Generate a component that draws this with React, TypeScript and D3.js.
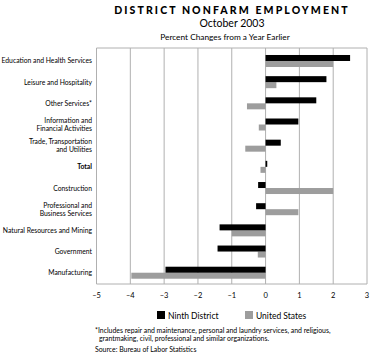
import React from "react";
import * as d3 from "d3";

const categories = [
  ["Education and Health Services"],
  ["Leisure and Hospitality"],
  ["Other Services*"],
  ["Information and", "Financial Activities"],
  ["Trade, Transportation", "and Utilities"],
  ["Total"],
  ["Construction"],
  ["Professional and", "Business Services"],
  ["Natural Resources and Mining"],
  ["Government"],
  ["Manufacturing"],
];
const ninthDistrict = [2.5, 1.8, 1.5, 0.97, 0.45, 0.05, -0.22, -0.28, -1.36, -1.42, -2.96];
const unitedStates = [2.0, 0.32, -0.55, -0.2, -0.6, -0.15, 2.0, 0.97, -1.0, -0.23, -3.97];
const xTicks = [-5, -4, -3, -2, -1, 0, 1, 2, 3];
const seriesNames = ["Ninth District", "United States"];
const seriesColors = ["#000000", "#9d9d9d"];

const FONT = "Lato, 'DejaVu Sans', sans-serif";

export default function App() {
  const W = 370, H = 356;
  const x = d3.scaleLinear().domain([-5, 3]).range([96.5, 367]);
  const y = d3.scaleBand<number>().domain(d3.range(categories.length)).range([50.4, 283.3]);
  const top = 48, bottom = 284;
  const barH = 6;
  const fmt = (t: number) => (t < 0 ? "\u2013" + Math.abs(t) : String(t));

  return (
    <svg width={W} height={H} style={{ position: "absolute", left: 0, top: 0, background: "#fff" }}>
      <text x={232} y={14} textAnchor="middle" fontFamily={FONT} fontWeight="900" fontSize={10.5} letterSpacing={2.1}>
        DISTRICT NONFARM EMPLOYMENT
      </text>
      <text x={232} y={27} textAnchor="middle" fontFamily={FONT} fontSize={10.5}>October 2003</text>
      <text x={225} y={40} textAnchor="middle" fontFamily={FONT} fontSize={8.3}>Percent Changes from a Year Earlier</text>

      {xTicks.map((t) => (
        <line key={"g" + t} x1={x(t)} x2={x(t)} y1={top} y2={bottom} stroke="#b0b0b0" strokeWidth={1} />
      ))}
      <line x1={x(-5)} x2={x(3)} y1={top} y2={top} stroke="#b0b0b0" />
      <line x1={x(-5)} x2={x(3)} y1={bottom} y2={bottom} stroke="#b0b0b0" />

      {categories.map((c, i) => {
        const cy = (y(i) as number) + y.bandwidth() / 2;
        const v1 = ninthDistrict[i], v2 = unitedStates[i];
        return (
          <g key={i}>
            <rect x={x(Math.min(0, v2))} y={cy} width={Math.abs(x(v2) - x(0))} height={barH} fill={seriesColors[1]} />
            <rect x={x(Math.min(0, v1))} y={cy - barH} width={Math.abs(x(v1) - x(0))} height={barH} fill={seriesColors[0]} />
            {c.map((line, j) => (
              <text
                key={j}
                x={92}
                y={cy + 2.5 + (j - (c.length - 1) / 2) * 8}
                textAnchor="end"
                fontFamily={FONT}
                fontSize={6.8}
                fontWeight={c[0] === "Total" ? "bold" : "normal"}
              >
                {line}
              </text>
            ))}
          </g>
        );
      })}

      {xTicks.map((t) => (
        <text key={"t" + t} x={x(t)} y={298} textAnchor="middle" fontFamily={FONT} fontSize={7.5}>
          {fmt(t)}
        </text>
      ))}

      <rect x={157} y={311} width={8} height={8} fill={seriesColors[0]} />
      <text x={168} y={318.5} fontFamily={FONT} fontSize={8.5}>{seriesNames[0]}</text>
      <rect x={245} y={311} width={8} height={8} fill={seriesColors[1]} />
      <text x={256} y={318.5} fontFamily={FONT} fontSize={8.5}>{seriesNames[1]}</text>

      <text x={95} y={333} fontFamily={FONT} fontSize={6.9}>
        *Includes repair and maintenance, personal and laundry services, and religious,
      </text>
      <text x={99} y={341} fontFamily={FONT} fontSize={6.9}>
        grantmaking, civil, professional and similar organizations.
      </text>
      <text x={95} y={352} fontFamily={FONT} fontSize={6.9}>Source: Bureau of Labor Statistics</text>
    </svg>
  );
}
